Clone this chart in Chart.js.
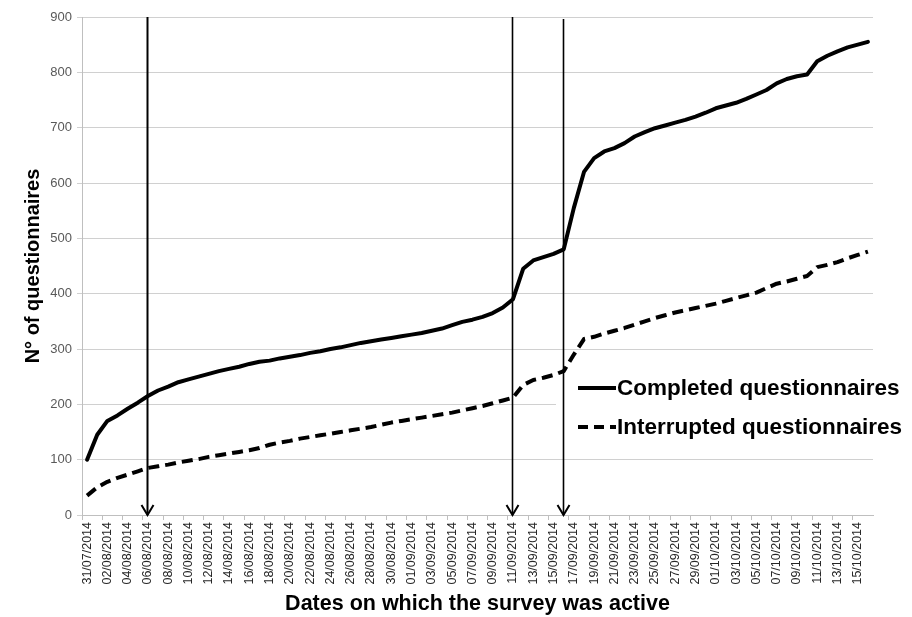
<!DOCTYPE html>
<html>
<head>
<meta charset="utf-8">
<script src="https://cdn.jsdelivr.net/npm/chart.js@4.4.1/dist/chart.umd.min.js"></script>
<style>
html,body{margin:0;padding:0;background:#fff;}
#wrap{width:912px;height:617px;position:relative;}
</style>
</head>
<body>
<div id="wrap"><canvas id="c" width="912" height="617"></canvas></div>
<script>
const dates = [
"31/07/2014",
"01/08/2014","02/08/2014","03/08/2014","04/08/2014","05/08/2014","06/08/2014","07/08/2014","08/08/2014","09/08/2014","10/08/2014",
"11/08/2014","12/08/2014","13/08/2014","14/08/2014","15/08/2014","16/08/2014","17/08/2014","18/08/2014","19/08/2014","20/08/2014",
"21/08/2014","22/08/2014","23/08/2014","24/08/2014","25/08/2014","26/08/2014","27/08/2014","28/08/2014","29/08/2014","30/08/2014","31/08/2014",
"01/09/2014","02/09/2014","03/09/2014","04/09/2014","05/09/2014","06/09/2014","07/09/2014","08/09/2014","09/09/2014","10/09/2014",
"11/09/2014","12/09/2014","13/09/2014","14/09/2014","15/09/2014","16/09/2014","17/09/2014","18/09/2014","19/09/2014","20/09/2014",
"21/09/2014","22/09/2014","23/09/2014","24/09/2014","25/09/2014","26/09/2014","27/09/2014","28/09/2014","29/09/2014","30/09/2014",
"01/10/2014","02/10/2014","03/10/2014","04/10/2014","05/10/2014","06/10/2014","07/10/2014","08/10/2014","09/10/2014","10/10/2014",
"11/10/2014","12/10/2014","13/10/2014","14/10/2014","15/10/2014","16/10/2014"
];

const completed = [
100,145,170,180,192,203,215,225,232,240,
245,250,255,260,264,268,273,277,279,283,
286,289,293,296,300,303,307,311,314,317,
320,323,326,329,333,337,343,349,353,358,
365,375,390,445,460,466,472,480,555,620,
645,657,663,672,684,692,699,704,709,714,
720,727,735,740,745,752,760,768,780,788,
793,796,820,830,838,845,850,855
];

const interrupted = [
35,50,60,67,73,79,85,88,91,95,
98,101,105,108,111,114,117,121,127,131,
134,138,141,144,147,150,153,156,159,163,
167,170,173,176,179,182,185,189,193,197,
202,207,212,235,244,248,253,260,290,318,
322,328,333,338,344,350,356,361,366,370,
374,378,382,387,392,397,402,410,418,422,
427,432,448,452,457,464,470,476
];

const seriesNames = ["Completed questionnaires", "Interrupted questionnaires"];
const arrowDates = ["06/08/2014", "11/09/2014", "16/09/2014"];
const yTicks = [0,100,200,300,400,500,600,700,800,900];

const legendBoxPlugin = {
  id: 'legendBox',
  beforeDatasetsDraw(chart) {
    const ctx = chart.ctx;
    ctx.save();
    ctx.fillStyle = '#ffffff';
    ctx.fillRect(556, 366, 356, 82);
    ctx.restore();
  },
  afterDraw(chart) {
    const ctx = chart.ctx;
    ctx.save();
    const rows = [
      {y: 388, dash: []},
      {y: 427, dash: [10, 6]}
    ];
    rows.forEach((r, i) => {
      ctx.beginPath();
      ctx.setLineDash(r.dash);
      ctx.lineWidth = 4;
      ctx.strokeStyle = '#000';
      ctx.lineCap = 'butt';
      ctx.moveTo(578, r.y);
      ctx.lineTo(616, r.y);
      ctx.stroke();
      ctx.setLineDash([]);
      ctx.fillStyle = '#000';
      ctx.font = 'bold 22.5px "Liberation Sans", Arial, sans-serif';
      ctx.textBaseline = 'middle';
      ctx.textAlign = 'left';
      ctx.fillText(seriesNames[i], 617, r.y + 1);
    });
    ctx.restore();
  }
};

const arrowPlugin = {
  id: 'arrows',
  afterDatasetsDraw(chart) {
    const ctx = chart.ctx;
    const xs = chart.scales.x;
    const area = chart.chartArea;
    ctx.save();
    ctx.strokeStyle = '#000';
    arrowDates.forEach((d, i) => {
      const x = Math.round(xs.getPixelForValue(dates.indexOf(d))) - 0.5;
      const top = area.top + (i === 2 ? 2 : 0);
      const bottom = area.bottom;
      ctx.lineWidth = i === 0 ? 2 : 1.6;
      ctx.beginPath();
      ctx.moveTo(x, top);
      ctx.lineTo(x, bottom);
      ctx.stroke();
      ctx.lineWidth = 2;
      ctx.beginPath();
      ctx.moveTo(x - 6, bottom - 10);
      ctx.lineTo(x, bottom);
      ctx.lineTo(x + 6, bottom - 10);
      ctx.stroke();
    });
    ctx.restore();
  }
};

new Chart(document.getElementById('c'), {
  type: 'line',
  data: {
    labels: dates,
    datasets: [
      {
        label: seriesNames[0],
        data: completed,
        borderColor: '#000',
        borderWidth: 4,
        pointRadius: 0,
        tension: 0,
        borderJoinStyle: 'round',
        borderCapStyle: 'round',
        fill: false
      },
      {
        label: seriesNames[1],
        data: interrupted,
        borderColor: '#000',
        borderWidth: 4,
        borderDash: [11, 6],
        pointRadius: 0,
        tension: 0,
        borderJoinStyle: 'round',
        fill: false
      }
    ]
  },
  options: {
    responsive: false,
    animation: false,
    devicePixelRatio: 1,
    layout: {padding: {top: 17, right: 39, left: 0, bottom: 0}},
    plugins: {
      legend: {display: false},
      tooltip: {enabled: false}
    },
    scales: {
      x: {
        offset: true,
        afterFit(scale) { scale.height = 102; },
        grid: {
          offset: true,
          drawOnChartArea: false,
          tickLength: 5,
          color: (c) => (c.index % 2 === 0 ? '#bfbfbf' : 'rgba(0,0,0,0)')
        },
        border: {color: '#bfbfbf', width: 1},
        ticks: {
          autoSkip: false,
          minRotation: 90,
          maxRotation: 90,
          padding: 2,
          color: '#262626',
          font: {family: '"Liberation Sans", Arial, sans-serif', size: 12.5},
          callback: (v, i) => (i % 2 === 0 ? dates[i] : '')
        },
        title: {
          display: true,
          text: 'Dates on which the survey was active',
          color: '#000',
          font: {family: '"Liberation Sans", Arial, sans-serif', size: 21.5, weight: 'bold'},
          padding: {top: 0, bottom: 0}
        }
      },
      y: {
        min: 0,
        max: 900,
        afterFit(scale) { scale.width = 82; },
        afterBuildTicks(scale) { scale.ticks = yTicks.map(v => ({value: v})); },
        grid: {color: '#d0d0d0', lineWidth: 1, tickLength: 5},
        border: {color: '#bfbfbf', width: 1},
        ticks: {
          padding: 5,
          color: '#595959',
          font: {family: '"Liberation Sans", Arial, sans-serif', size: 13}
        },
        title: {
          display: true,
          text: 'N° of questionnaires',
          color: '#000',
          font: {family: '"Liberation Sans", Arial, sans-serif', size: 20, weight: 'bold'},
          padding: {top: 21, bottom: 0}
        }
      }
    }
  },
  plugins: [legendBoxPlugin, arrowPlugin]
});
</script>
</body>
</html>
